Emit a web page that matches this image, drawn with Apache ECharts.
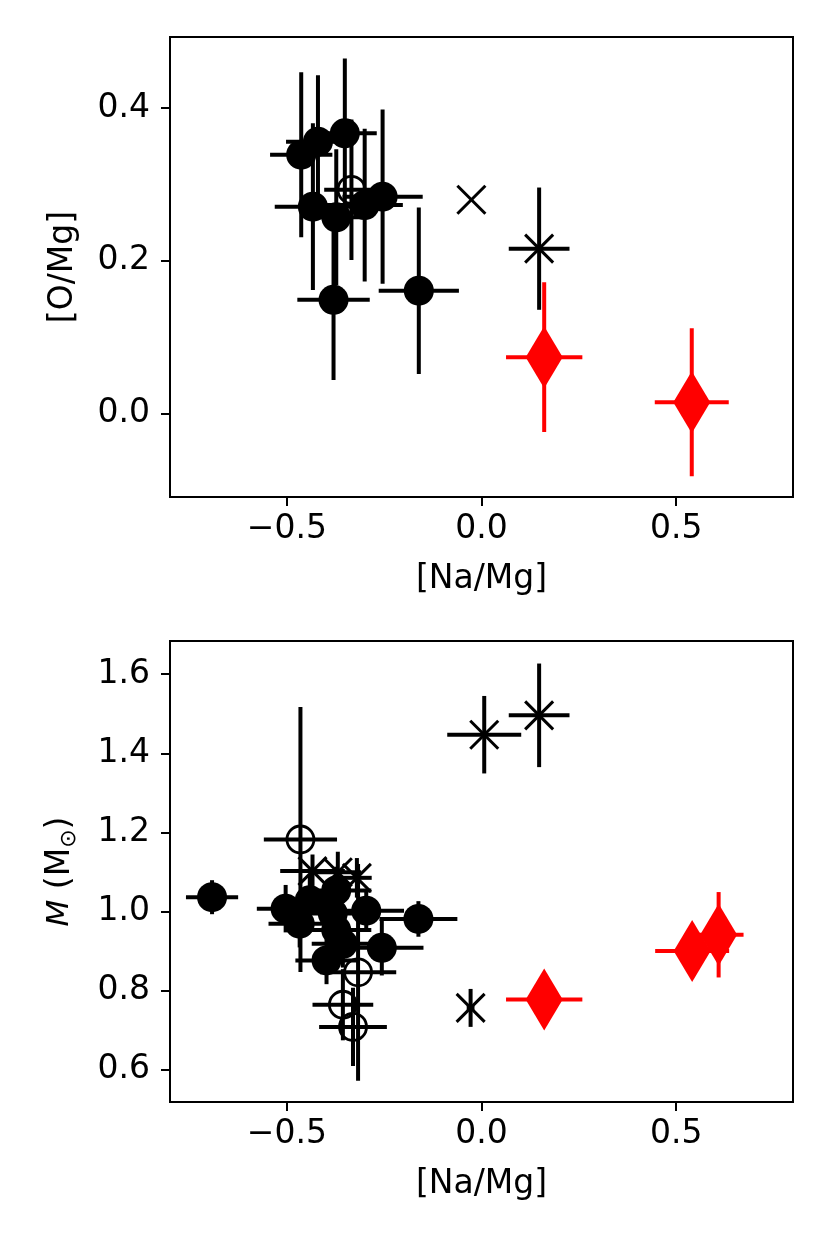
<!DOCTYPE html>
<html><head><meta charset="utf-8">
<script src="https://cdn.jsdelivr.net/npm/echarts@6/dist/echarts.min.js"></script>
<style>html,body{margin:0;padding:0;background:#fff}#c{width:830px;height:1246px}</style>
</head><body><div id="c"></div>
<script>
// ---- Top panel: [O/Mg] vs [Na/Mg] ----
const topFilledX    = [-0.463, -0.420, -0.351, -0.433, -0.373, -0.380, -0.300, -0.254, -0.161];
const topFilledY    = [0.339, 0.356, 0.367, 0.271, 0.257, 0.149, 0.273, 0.284, 0.161];
const topFilledXerr = [0.080, 0.082, 0.082, 0.098, 0.080, 0.093, 0.098, 0.103, 0.103];
const topFilledYerr = [0.108, 0.087, 0.098, 0.109, 0.089, 0.105, 0.100, 0.114, 0.109];
const topOpenX = [-0.334], topOpenY = [0.293], topOpenXerr = [0.07], topOpenYerr = [0.092];
const topCrossX = [-0.026, 0.148], topCrossY = [0.280, 0.216];
const topCrossXerr = [0, 0.078], topCrossYerr = [0, 0.080];
const topDiamX = [0.161, 0.540], topDiamY = [0.074, 0.015];
const topDiamXerr = [0.098, 0.095], topDiamYerr = [0.098, 0.097];

// ---- Bottom panel: M vs [Na/Mg] ----
const botFilledX    = [-0.692, -0.503, -0.441, -0.373, -0.296, -0.162, -0.256, -0.398, -0.467, -0.373, -0.356, -0.382];
const botFilledY    = [1.036, 1.007, 1.028, 1.053, 1.002, 0.981, 0.908, 0.876, 0.969, 0.953, 0.918, 0.995];
const botFilledXerr = [0.067, 0.074, 0.090, 0.090, 0.097, 0.100, 0.107, 0.080, 0.080, 0.090, 0.080, 0.080];
const botFilledYerr = [0.043, 0.060, 0.065, 0.060, 0.050, 0.045, 0.070, 0.060, 0.060, 0.070, 0.060, 0.060];
const botOpenX    = [-0.465, -0.317, -0.356, -0.330];
const botOpenY    = [1.182, 0.846, 0.764, 0.708];
const botOpenXerr = [0.094, 0.098, 0.078, 0.087];
const botOpenYerr = [0.335, 0.274, 0.090, 0.099];
const botCrossX    = [0.007, 0.148, -0.028, -0.434, -0.369, -0.320];
const botCrossY    = [1.447, 1.496, 0.756, 1.102, 1.099, 1.085];
const botCrossXerr = [0.095, 0.078, 0.010, 0.083, 0.060, 0.038];
const botCrossYerr = [0.098, 0.131, 0.048, 0.042, 0.052, 0.050];
const botDiamX    = [0.161, 0.541, 0.609];
const botDiamY    = [0.777, 0.900, 0.941];
const botDiamXerr = [0.098, 0.095, 0.064];
const botDiamYerr = [0.030, 0.040, 0.108];

// ---- Ticks ----
const xTicks = [-0.5, 0.0, 0.5];
const topYTicks = [0.0, 0.2, 0.4];
const botYTicks = [0.6, 0.8, 1.0, 1.2, 1.4, 1.6];

function zip(xs, ys, xe, ye) { return xs.map((x, i) => [x, ys[i], xe[i], ye[i]]); }

const FONT = 'DejaVu Sans';
const fmt = v => (v < 0 ? '\u2212' : '') + Math.abs(v).toFixed(1);

function errSeries(data, gi, color, z) {
  return {
    type: 'custom', xAxisIndex: gi, yAxisIndex: gi, z: z, silent: true,
    data: data, encode: { x: 0, y: 1 },
    renderItem: function (params, api) {
      const x = api.value(0), y = api.value(1), dx = api.value(2), dy = api.value(3);
      const ch = [];
      if (dx > 0) {
        const l = api.coord([x - dx, y]), r = api.coord([x + dx, y]);
        ch.push({ type: 'line', shape: { x1: l[0], y1: l[1], x2: r[0], y2: r[1] }, style: { stroke: color, lineWidth: 4 } });
      }
      if (dy > 0) {
        const t = api.coord([x, y + dy]), b = api.coord([x, y - dy]);
        ch.push({ type: 'line', shape: { x1: t[0], y1: t[1], x2: b[0], y2: b[1] }, style: { stroke: color, lineWidth: 4 } });
      }
      return { type: 'group', children: ch };
    }
  };
}
function crossSeries(data, gi, z) {
  return {
    type: 'custom', xAxisIndex: gi, yAxisIndex: gi, z: z, silent: true,
    data: data, encode: { x: 0, y: 1 },
    renderItem: function (params, api) {
      const p = api.coord([api.value(0), api.value(1)]);
      const s = 14;
      return { type: 'group', children: [
        { type: 'line', shape: { x1: p[0] - s, y1: p[1] - s, x2: p[0] + s, y2: p[1] + s }, style: { stroke: '#000', lineWidth: 3 } },
        { type: 'line', shape: { x1: p[0] - s, y1: p[1] + s, x2: p[0] + s, y2: p[1] - s }, style: { stroke: '#000', lineWidth: 3 } }
      ] };
    }
  };
}
function filledSeries(data, gi, z) {
  return { type: 'scatter', xAxisIndex: gi, yAxisIndex: gi, z: z, silent: true, data: data,
    symbol: 'circle', symbolSize: 30, itemStyle: { color: '#000', opacity: 1 } };
}
function openSeries(data, gi, z) {
  return { type: 'scatter', xAxisIndex: gi, yAxisIndex: gi, z: z, silent: true, data: data,
    symbol: 'circle', symbolSize: 27, itemStyle: { color: 'rgba(0,0,0,0)', borderColor: '#000', borderWidth: 2.8, opacity: 1 } };
}
function diamSeries(data, gi, z) {
  return { type: 'scatter', xAxisIndex: gi, yAxisIndex: gi, z: z, silent: true, data: data,
    symbol: 'path://M0,-1L0.6,0L0,1L-0.6,0Z', symbolKeepAspect: false, symbolSize: [37, 62],
    itemStyle: { color: '#ff0000', opacity: 1 } };
}

function xAxisCfg(gi) {
  return {
    type: 'value', gridIndex: gi, min: -0.8, max: 0.8,
    splitLine: { show: false },
    axisLine: { show: true, onZero: false, lineStyle: { color: '#000', width: 2 } },
    axisTick: { show: true, length: 9, customValues: xTicks, lineStyle: { color: '#000', width: 2 } },
    axisLabel: { customValues: xTicks, formatter: fmt, fontSize: 33, color: '#000', fontFamily: FONT, margin: 16 },
    name: '[Na/Mg]', nameLocation: 'middle', nameGap: 66,
    nameTextStyle: { fontSize: 33, color: '#000', fontFamily: FONT }
  };
}
function yAxisCfg(gi, min, max, ticks, name, gap, rich) {
  return {
    type: 'value', gridIndex: gi, min: min, max: max,
    splitLine: { show: false },
    axisLine: { show: true, onZero: false, lineStyle: { color: '#000', width: 2 } },
    axisTick: { show: true, length: 9, customValues: ticks, lineStyle: { color: '#000', width: 2 } },
    axisLabel: { customValues: ticks, formatter: fmt, fontSize: 33, color: '#000', fontFamily: FONT, margin: 20 },
    name: name, nameLocation: 'middle', nameGap: gap, nameRotate: 90,
    nameTextStyle: Object.assign({ fontSize: 33, color: '#000', fontFamily: FONT }, rich ? { rich: rich } : {})
  };
}

const chart = echarts.init(document.getElementById('c'), null, { renderer: 'canvas' });
chart.setOption({
  animation: false,
  backgroundColor: '#fff',
  grid: [
    { left: 170, top: 37, width: 623, height: 460, show: true, borderColor: '#000', borderWidth: 2, backgroundColor: 'transparent' },
    { left: 170, top: 641, width: 623, height: 461, show: true, borderColor: '#000', borderWidth: 2, backgroundColor: 'transparent' }
  ],
  xAxis: [xAxisCfg(0), xAxisCfg(1)],
  yAxis: [
    yAxisCfg(0, -0.109, 0.493, topYTicks, '[O/Mg]', 90),
    yAxisCfg(1, 0.518, 1.684, botYTicks, '{i|M} (M{s|\u2299})', 90, {
      i: { fontSize: 31, fontStyle: 'italic', fontFamily: FONT, color: '#000', lineHeight: 40 },
      s: { fontSize: 22, fontFamily: FONT, color: '#000', verticalAlign: 'bottom', lineHeight: 30 }
    })
  ],
  series: [
    errSeries(zip(topFilledX, topFilledY, topFilledXerr, topFilledYerr), 0, '#000', 2),
    filledSeries(zip(topFilledX, topFilledY, topFilledXerr, topFilledYerr), 0, 3),
    errSeries(zip(topOpenX, topOpenY, topOpenXerr, topOpenYerr), 0, '#000', 4),
    openSeries(zip(topOpenX, topOpenY, topOpenXerr, topOpenYerr), 0, 5),
    errSeries(zip(topCrossX, topCrossY, topCrossXerr, topCrossYerr), 0, '#000', 6),
    crossSeries(zip(topCrossX, topCrossY, topCrossXerr, topCrossYerr), 0, 7),
    errSeries(zip(topDiamX, topDiamY, topDiamXerr, topDiamYerr), 0, '#ff0000', 8),
    diamSeries(zip(topDiamX, topDiamY, topDiamXerr, topDiamYerr), 0, 9),

    errSeries(zip(botFilledX, botFilledY, botFilledXerr, botFilledYerr), 1, '#000', 2),
    filledSeries(zip(botFilledX, botFilledY, botFilledXerr, botFilledYerr), 1, 3),
    errSeries(zip(botOpenX, botOpenY, botOpenXerr, botOpenYerr), 1, '#000', 4),
    openSeries(zip(botOpenX, botOpenY, botOpenXerr, botOpenYerr), 1, 5),
    errSeries(zip(botCrossX, botCrossY, botCrossXerr, botCrossYerr), 1, '#000', 6),
    crossSeries(zip(botCrossX, botCrossY, botCrossXerr, botCrossYerr), 1, 7),
    errSeries(zip(botDiamX, botDiamY, botDiamXerr, botDiamYerr), 1, '#ff0000', 8),
    diamSeries(zip(botDiamX, botDiamY, botDiamXerr, botDiamYerr), 1, 9)
  ]
});
</script>
</body></html>
